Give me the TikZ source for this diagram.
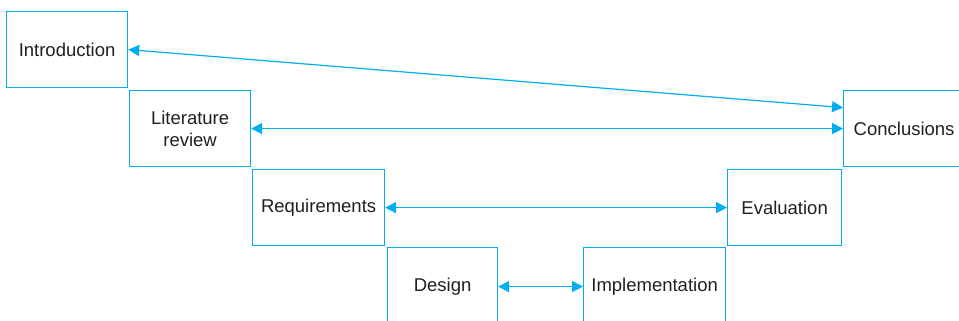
\documentclass[tikz,border=0pt]{standalone}
\usepackage{fontspec}
\setmainfont{Liberation Sans}
\usetikzlibrary{arrows.meta}
\definecolor{boxc}{HTML}{00AEEF}
\definecolor{txtc}{HTML}{231F20}
\tikzset{
  stagebox/.style={draw=boxc, line width=1.2pt, rectangle, inner sep=0pt, anchor=north west,
    text=txtc, align=center, font=\fontsize{18.5}{22}\selectfont},
  link/.style={draw=boxc, line width=1.2pt, {Triangle[length=11pt,width=11pt]}-{Triangle[length=11pt,width=11pt]}}
}
\begin{document}
\begin{tikzpicture}[x=1pt,y=-1pt]
\useasboundingbox (0,0) rectangle (959,321);
\clip (0,0) rectangle (959,321);
\fill[white] (0,0) rectangle (959,321);
\node[stagebox, minimum width=121pt, minimum height=76pt] (intro) at (6,11) {Introduction};
\node[stagebox, minimum width=121pt, minimum height=76pt] (lit) at (129,90) {Literature\\review};
\node[stagebox, minimum width=132pt, minimum height=76pt] (req) at (252,169) {Requirements};
\node[stagebox, minimum width=110pt, minimum height=78pt] (des) at (387,247) {Design};
\node[stagebox, minimum width=142pt, minimum height=78pt] (imp) at (583,247) {Implementation};
\node[stagebox, minimum width=114pt, minimum height=76pt] (eval) at (727,169) {Evaluation};
\node[stagebox, minimum width=121pt, minimum height=76pt] (concl) at (843,90) {Conclusions};
\draw[link] (intro.east) -- ([yshift=21pt]concl.west);
\draw[link] (lit.east) -- (concl.west);
\draw[link] (req.east) -- (eval.west);
\draw[link] (des.east) -- (imp.west);
\end{tikzpicture}
\end{document}
